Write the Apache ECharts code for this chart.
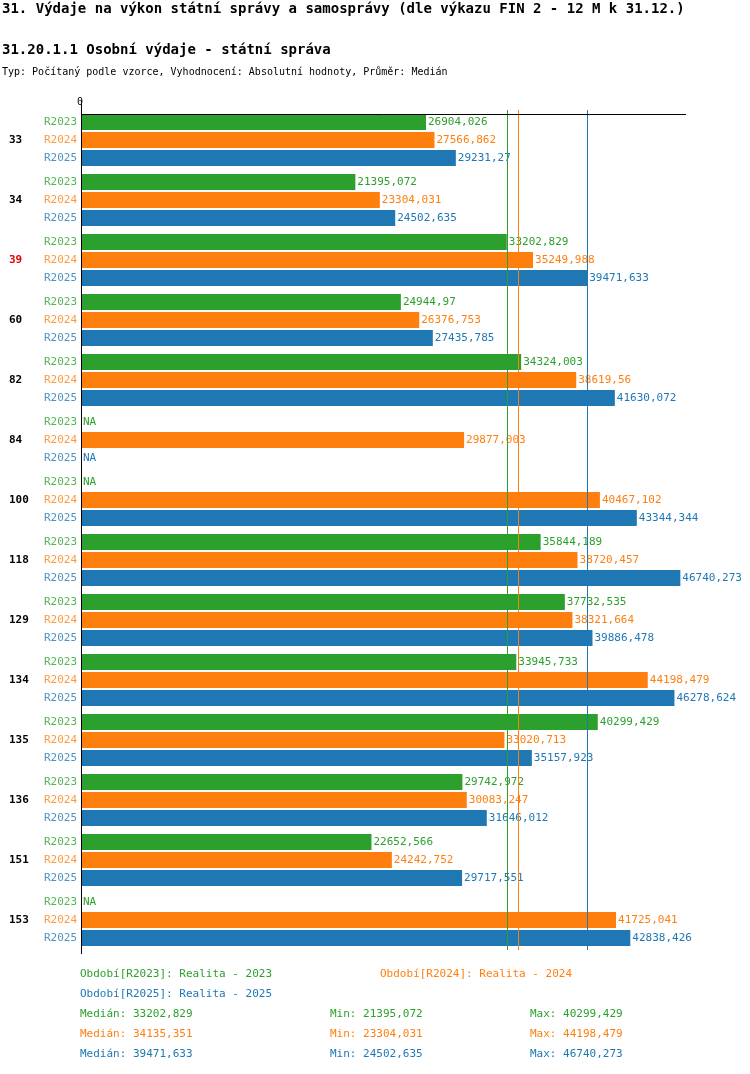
<!DOCTYPE html>
<html><head><meta charset="utf-8">
<script src="https://cdn.jsdelivr.net/npm/echarts@6/dist/echarts.min.js"></script>
<style>body{margin:0;background:#fff}#c{width:750px;height:1074px}</style>
</head><body><div id="c"></div>
<script>
// data
const groups = ['33','34','39','60','82','84','100','118','129','134','135','136','151','153'];
const years = ['R2023','R2024','R2025'];
const v2023 = [26904.026,21395.072,33202.829,24944.97,34324.003,null,null,35844.189,37732.535,33945.733,40299.429,29742.972,22652.566,null];
const v2024 = [27566.862,23304.031,35249.988,26376.753,38619.56,29877.003,40467.102,38720.457,38321.664,44198.479,33020.713,30083.247,24242.752,41725.041];
const v2025 = [29231.27,24502.635,39471.633,27435.785,41630.072,null,43344.344,46740.273,39886.478,46278.624,35157.923,31646.012,29717.551,42838.426];
const medians = [33202.829,34135.351,39471.633];
const mins = ['21395,072','23304,031','24502,635'];
const maxs = ['40299,429','44198,479','46740,273'];
const medTxt = ['33202,829','34135,351','39471,633'];
const colors = ['#2ca02c','#ff7f0e','#1f77b4'];
const FONT = 'DejaVu Sans Mono';

const fmt = v => String(v).replace('.', ',');
const allVals = [v2023, v2024, v2025];
const series = [];
allVals.forEach((vals, k) => {
  series.push({
    type: 'bar', barWidth: 16, barGap: '12.5%',
    itemStyle: {color: colors[k]},
    data: vals.map(v => v == null ? 0 : v),
    label: {show: true, position: 'right', distance: 2, color: colors[k], fontFamily: FONT, fontSize: 11,
      formatter: p => vals[p.dataIndex] == null ? 'NA' : fmt(vals[p.dataIndex])},
    markLine: {silent: true, symbol: 'none', label: {show: false},
      lineStyle: {color: colors[k], type: 'solid', width: 1},
      data: [{xAxis: medians[k]}]},
    z: 2
  });
});
years.forEach((y, k) => {
  series.push({
    type: 'scatter', symbolSize: 0,
    data: groups.map((g, i) => [0, i]),
    label: {show: true, position: 'left', distance: 4, offset: [0, (k - 1) * 18],
      formatter: y, color: colors[k], fontFamily: FONT, fontSize: 11}
  });
});

const txt = (x, y, t, c, size, w) => ({type: 'text', left: x, top: y,
  style: {text: t, fill: c || '#000', font: (w || 'normal') + ' ' + (size || 11) + 'px "' + FONT + '"'}});
const graphic = [
  txt(2, 2, '31. Výdaje na výkon státní správy a samosprávy (dle výkazu FIN 2 - 12 M k 31.12.)', '#000', 14, 'bold'),
  txt(2, 43, '31.20.1.1 Osobní výdaje - státní správa', '#000', 14, 'bold'),
  txt(2, 67, 'Typ: Počítaný podle vzorce, Vyhodnocení: Absolutní hodnoty, Průměr: Medián', '#000', 10),
  txt(77, 97, '0', '#000', 10),
  {type: 'line', shape: {x1: 81, y1: 114.5, x2: 686, y2: 114.5}, style: {stroke: '#000', lineWidth: 1}, z: 10},
  {type: 'line', shape: {x1: 81.5, y1: 100, x2: 81.5, y2: 954}, style: {stroke: '#000', lineWidth: 1}, z: 10},
  txt(80, 969, 'Období[R2023]: Realita - 2023', colors[0]),
  txt(380, 969, 'Období[R2024]: Realita - 2024', colors[1]),
  txt(80, 989, 'Období[R2025]: Realita - 2025', colors[2])
];
[0, 1, 2].forEach(k => {
  const y = 1009 + k * 20;
  graphic.push(txt(80, y, 'Medián: ' + medTxt[k], colors[k]));
  graphic.push(txt(330, y, 'Min: ' + mins[k], colors[k]));
  graphic.push(txt(530, y, 'Max: ' + maxs[k], colors[k]));
});

const chart = echarts.init(document.getElementById('c'));
chart.setOption({
  animation: false,
  grid: {left: 81, width: 605, top: 110, height: 840},
  xAxis: {type: 'value', min: 0, max: 47180, show: false},
  yAxis: {type: 'category', inverse: true, data: groups,
    axisLine: {show: false}, axisTick: {show: false},
    axisLabel: {margin: 72, align: 'left', fontFamily: FONT, fontSize: 11, fontWeight: 'bold',
      padding: [0, 0, 36, 0],
      color: (v) => v === '39' ? '#e00000' : '#000'}},
  series: series,
  graphic: graphic
});
</script></body></html>
